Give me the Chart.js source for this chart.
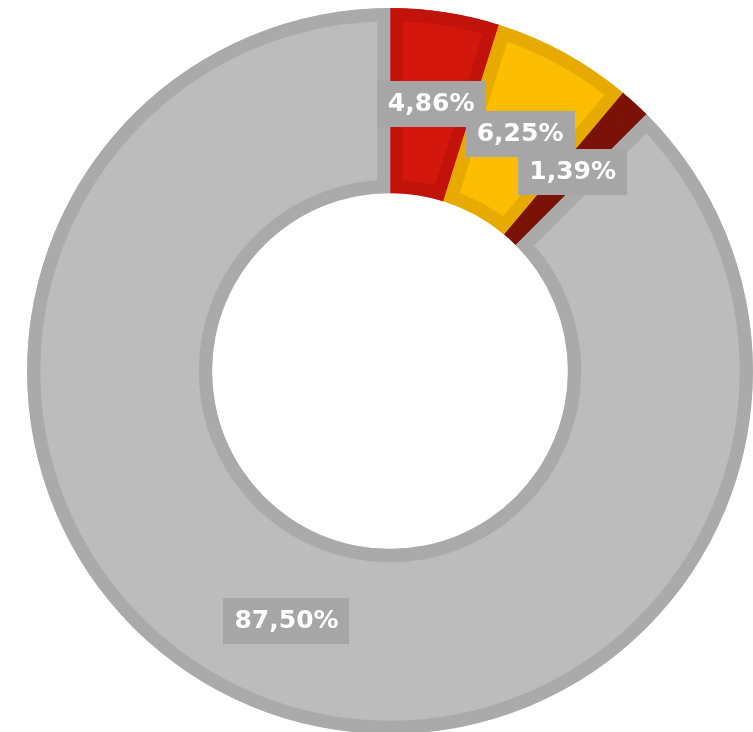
<!DOCTYPE html>
<html>
<head>
<meta charset="utf-8">
<script src="https://cdn.jsdelivr.net/npm/chart.js@4"></script>
<style>
  html, body { margin: 0; padding: 0; background: #ffffff; overflow: hidden; width: 753px; height: 732px; }
  #wrap { position: absolute; left: 27px; top: 8px; width: 726px; height: 726px; }
</style>
</head>
<body>
<div id="wrap"><canvas id="chart"></canvas></div>
<script>
// values, in slice order (clockwise from the top)
var labels = ["A", "B", "C", "D"];
var values = [4.86, 6.25, 1.39, 87.50];
var fillColors = ["#d4170d", "#fdbd00", "#7d1409", "#bcbcbc"];
var edgeColors = ["#c2130a", "#e6aa00", "#7a1208", "#aaaaaa"];

function fmt(v){
	return v.toFixed(2).replace(".", ",") + "%";
}

// draws the value boxes in the middle of each slice
var boxLabels = {
	id: "boxLabels",
	afterDatasetsDraw: function(chart){
		var ctx = chart.ctx;
		var meta = chart.getDatasetMeta(0);
		ctx.save();
		ctx.font = "bold 25px 'DejaVu Sans'";
		ctx.textAlign = "center";
		ctx.textBaseline = "middle";
		for(var i = 0; i < meta.data.length; i++){
			var arc = meta.data[i];
			var mid = (arc.startAngle + arc.endAngle) / 2;
			var r = (arc.innerRadius + arc.outerRadius) / 2;
			var x = arc.x + Math.cos(mid) * r;
			var y = arc.y + Math.sin(mid) * r;
			var txt = fmt(values[i]);
			var w = ctx.measureText(txt).width + 22;
			var h = 46;
			ctx.fillStyle = "#a6a6a6";
			ctx.fillRect(Math.round(x - w / 2), Math.round(y - h / 2), Math.round(w), h);
			ctx.fillStyle = "#ffffff";
			ctx.fillText(txt, x, y + 1);
		}
		ctx.restore();
	}
};

var ctx = document.getElementById("chart").getContext("2d");
var myChart = new Chart(ctx, {
	type: "doughnut",
	data: {
		labels: labels,
		datasets: [{
			data: values,
			backgroundColor: fillColors,
			borderColor: edgeColors,
			borderWidth: 13,
			borderAlign: "inner",
			borderJoinStyle: "miter"
		}]
	},
	options: {
		responsive: true,
		maintainAspectRatio: false,
		animation: false,
		cutout: "49%",
		layout: { padding: 0 },
		plugins: {
			legend: { display: false },
			tooltip: { enabled: false }
		}
	},
	plugins: [boxLabels]
});
</script>
</body>
</html>
